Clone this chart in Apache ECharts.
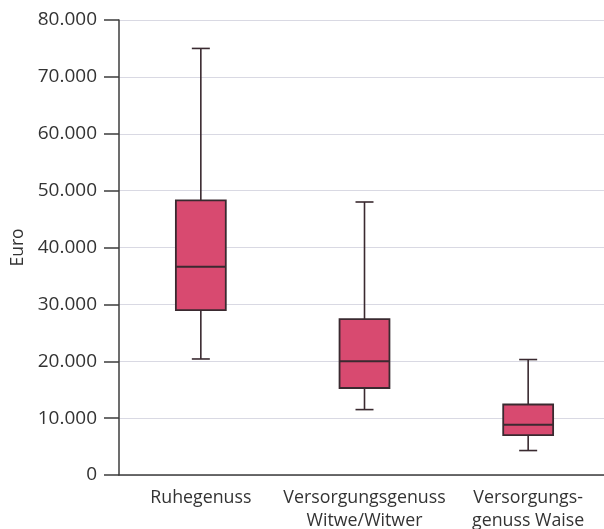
<!DOCTYPE html>
<html><head><meta charset="utf-8">
<script src="https://cdn.jsdelivr.net/npm/echarts@6/dist/echarts.min.js"></script>
<style>html,body{margin:0;padding:0;background:#fff}#c{width:604px;height:529px}</style>
</head><body><div id="c"></div>
<script>
const categories = ['Ruhegenuss', 'Versorgungsgenuss\nWitwe/Witwer', 'Versorgungs-\ngenuss Waise'];
const mins = [20400, 11500, 4300];
const q1s = [29000, 15300, 7000];
const medians = [36600, 20000, 8850];
const q3s = [48300, 27400, 12400];
const maxs = [75000, 48000, 20300];
const yTicks = [0, 10000, 20000, 30000, 40000, 50000, 60000, 70000, 80000];

const data = categories.map((c, i) => [i, mins[i], q1s[i], medians[i], q3s[i], maxs[i]]);
const fmt = v => v === 0 ? '0' : String(v).replace(/\B(?=(\d{3})+(?!\d))/g, '.');
const FONT = '"Open Sans", "DejaVu Sans", sans-serif';

const chart = echarts.init(document.getElementById('c'));
chart.setOption({
  animation: false,
  grid: { left: 119, right: -6, top: 20, bottom: 54, containLabel: false, outerBoundsMode: 'none' },
  xAxis: {
    type: 'category', data: categories, boundaryGap: true,
    axisLine: { lineStyle: { color: '#3d3d3d', width: 1.5 } },
    axisTick: { show: false },
    axisLabel: { color: '#333', fontSize: 17.8, fontFamily: FONT, margin: 11, lineHeight: 23.5, interval: 0 },
    splitLine: { show: false }
  },
  yAxis: {
    type: 'value', min: yTicks[0], max: yTicks[yTicks.length - 1], interval: 10000,
    name: 'Euro', nameLocation: 'middle', nameGap: 92, nameRotate: 90,
    nameTextStyle: { color: '#333', fontSize: 17.5, fontFamily: FONT },
    axisLine: { show: true, lineStyle: { color: '#3d3d3d', width: 1.5 } },
    axisTick: { show: true, length: 15, lineStyle: { color: '#3d3d3d', width: 1.5 } },
    axisLabel: { color: '#333', fontSize: 19, fontFamily: FONT, margin: 22, formatter: fmt },
    splitLine: { show: true, lineStyle: { color: '#d9d9e3', width: 1 } }
  },
  series: [{
    type: 'custom',
    data: data,
    encode: { x: 0, y: [1, 2, 3, 4, 5] },
    renderItem: function (params, api) {
      const x = api.value(0);
      const pMin = api.coord([x, api.value(1)]);
      const pQ1 = api.coord([x, api.value(2)]);
      const pMed = api.coord([x, api.value(3)]);
      const pQ3 = api.coord([x, api.value(4)]);
      const pMax = api.coord([x, api.value(5)]);
      const bw = api.size([1, 0])[0] * 0.305;
      const cw = api.size([1, 0])[0] * 0.11;
      const cx = pMed[0];
      const stroke = { stroke: '#3a2a30', lineWidth: 1.6 };
      return {
        type: 'group',
        children: [
          { type: 'line', shape: { x1: cx, y1: pMax[1], x2: cx, y2: pQ3[1] }, style: stroke },
          { type: 'line', shape: { x1: cx, y1: pQ1[1], x2: cx, y2: pMin[1] }, style: stroke },
          { type: 'line', shape: { x1: cx - cw / 2, y1: pMax[1], x2: cx + cw / 2, y2: pMax[1] }, style: stroke },
          { type: 'line', shape: { x1: cx - cw / 2, y1: pMin[1], x2: cx + cw / 2, y2: pMin[1] }, style: stroke },
          { type: 'rect', shape: { x: cx - bw / 2, y: pQ3[1], width: bw, height: pQ1[1] - pQ3[1] },
            style: { fill: '#d84a70', stroke: '#3a2a30', lineWidth: 1.8 } },
          { type: 'line', shape: { x1: cx - bw / 2, y1: pMed[1], x2: cx + bw / 2, y2: pMed[1] },
            style: { stroke: '#3a2a30', lineWidth: 2 } }
        ]
      };
    }
  }]
});
</script></body></html>
